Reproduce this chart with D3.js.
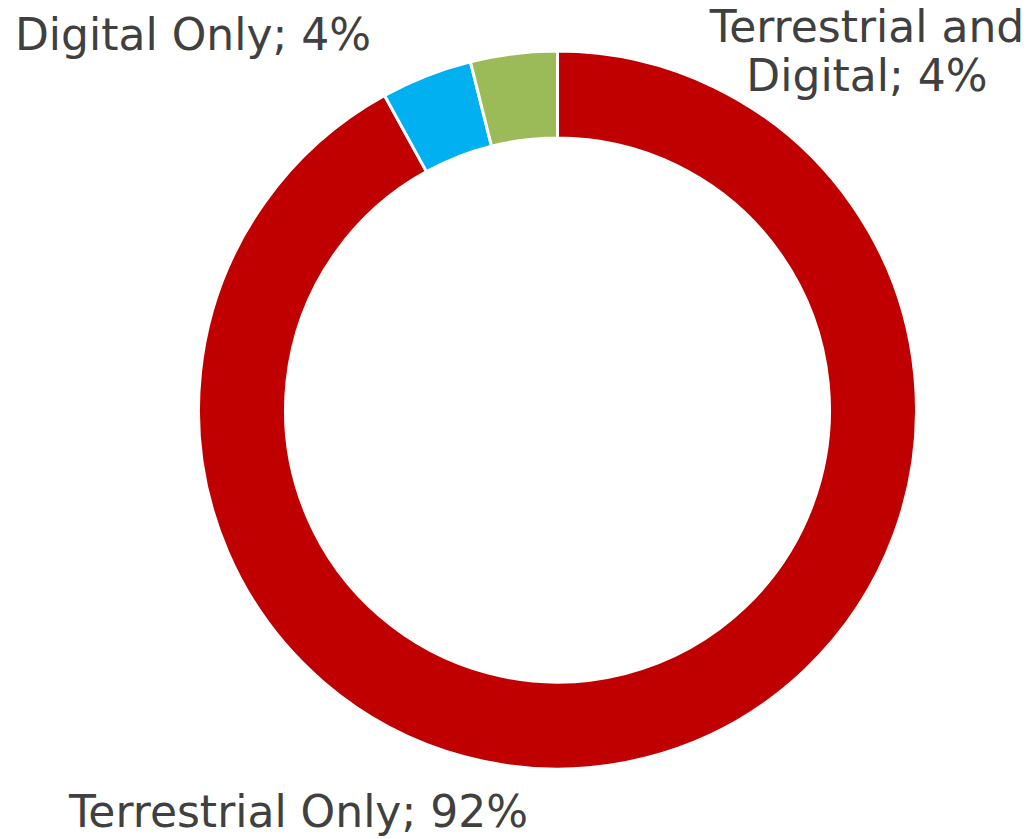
<!DOCTYPE html>
<html><head><meta charset="utf-8">
<script src="https://cdn.jsdelivr.net/npm/d3@7"></script>
<style>body{margin:0;background:#fff}svg{display:block}</style>
</head><body>
<script>
const categories = ["Terrestrial Only", "Digital Only", "Terrestrial and Digital"];
const values = [92, 4.1, 3.9];
const labels = [["Terrestrial Only; 92%"], ["Digital Only; 4%"], ["Terrestrial and", "Digital; 4%"]];
const colors = ["#C00000", "#00B0F0", "#9BBB59"];

const W = 1033, H = 839;
const cx = 557.5, cy = 410, R = 359, r = 272;
const svg = d3.select("body").append("svg").attr("width", W).attr("height", H);
const data = categories.map((c, i) => ({c, v: values[i], i}));
const pie = d3.pie().value(d => d.v).sort(null);
const arc = d3.arc().innerRadius(r).outerRadius(R);
const g = svg.append("g").attr("transform", `translate(${cx},${cy})`);
g.selectAll("path").data(pie(data)).join("path")
  .attr("d", arc).attr("fill", d => colors[d.data.i])
  .attr("stroke", "#fff").attr("stroke-width", 3).attr("stroke-linejoin", "round");

const labelPos = [
  {x: 298.5, y: 827, anchor: "middle"},
  {x: 193, y: 50, anchor: "middle"},
  {x: 867, y: 42, anchor: "middle"}
];
const font = 44, lh = 49;
labels.forEach((lines, i) => {
  const p = labelPos[i];
  const t = svg.append("text").attr("x", p.x).attr("y", p.y)
    .attr("text-anchor", p.anchor).attr("fill", "#404040")
    .attr("font-family", "'DejaVu Sans', Verdana, sans-serif").attr("font-size", font);
  lines.forEach((l, j) => t.append("tspan").attr("x", p.x).attr("dy", j ? lh : 0).text(l));
});
</script>
</body></html>
